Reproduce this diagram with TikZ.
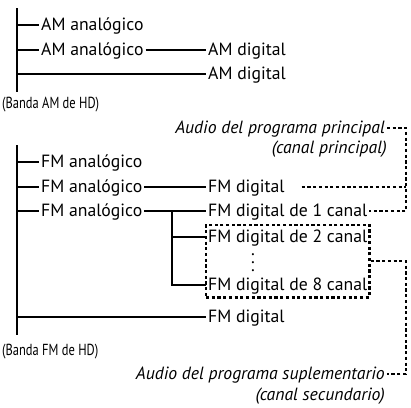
\documentclass[tikz,border=0pt]{standalone}
\usepackage{fontspec}
\setmainfont{PT Sans}
\newfontfamily\narrowfont[FakeStretch=0.78]{PT Sans}
\usetikzlibrary{positioning, fit, calc}

\begin{document}
\begin{tikzpicture}[x=1pt, y=-1pt,
    every node/.style={font=\fontsize{17.7}{20}\selectfont, inner sep=2pt, text height=13pt, text depth=3pt},
    lbl/.style={anchor=west},
    note/.style={anchor=east, font=\fontsize{17.7}{20}\selectfont\itshape},
    band/.style={anchor=west, font=\fontsize{16}{18}\selectfont\narrowfont},
    wire/.style={line width=2.7pt},
    dots/.style={line width=2.6pt, dash pattern=on 3.2pt off 2.5pt}
]
\useasboundingbox (0,0) rectangle (411,407);

% ===== Banda AM =====
\coordinate (amtop) at (17,8);
\coordinate (ambot) at (17,92);
\node[lbl] (am1) at (39,25) {AM analógico};
\node[lbl] (am2) at (39,50) {AM analógico};
\node[lbl] (amd2) at (206,50) {AM digital};
\node[lbl] (amd3) at (206,74) {AM digital};
\node[band] (amband) at (0,103) {(Banda AM de HD)};

\draw[wire] (amtop) -- (ambot);
\draw[wire] (amtop |- am1.west) -- (am1.west);
\draw[wire] (amtop |- am2.west) -- (am2.west);
\draw[wire] (am2.east) -- (amd2.west);
\draw[wire] (amtop |- amd3.west) -- (amd3.west);

% ===== Banda FM =====
\coordinate (fmtop) at (17,145);
\coordinate (fmbot) at (17,335);
\node[lbl] (fm1) at (39,162) {FM analógico};
\node[lbl] (fm2) at (39,187) {FM analógico};
\node[lbl] (fm3) at (39,211) {FM analógico};
\node[lbl] (fd) at (206,187) {FM digital};
\node[lbl] (f1) at (206,211) {FM digital de 1 canal};
\node[lbl] (f2) at (206,237) {FM digital de 2 canal};
\node[text height=, text depth=, inner sep=0pt] (vd) at (253,263)
  {\vbox{\baselineskip=8pt\lineskiplimit=-10pt\hbox{.}\hbox{.}\hbox{.}}};
\node[lbl] (f8) at (206,285) {FM digital de 8 canal};
\node[lbl] (fdl) at (206,317) {FM digital};
\node[band] (fmband) at (0,350) {(Banda FM de HD)};
\node[fit=(f2)(f8), draw, dots, inner xsep=0pt, inner ysep=2pt] (chbox) {};

\draw[wire] (fmtop) -- (fmbot);
\draw[wire] (fmtop |- fm1.west) -- (fm1.west);
\draw[wire] (fmtop |- fm2.west) -- (fm2.west);
\draw[wire] (fmtop |- fm3.west) -- (fm3.west);
\draw[wire] (fm2.east) -- (fd.west);
\draw[wire] (fm3.east) -- (f1.west);
\coordinate (br) at (172,211);
\draw[wire] (br) |- (f2.west);
\draw[wire] (br) |- (f8.west);
\draw[wire] (fmtop |- fdl.west) -- (fdl.west);

% ===== Audio del programa =====
\coordinate (rx) at (406,0);
\node[note] (pp) at (387,128) {Audio del programa principal};
\node[note] (pc) at (389,148) {(canal principal)};
\node[note] (sp) at (387,374) {Audio del programa suplementario};
\node[note] (sc) at (387,395) {(canal secundario)};

\draw[dots] (pp.east) -| (f1.east -| rx) -- (f1.east);
\draw[dots] ([xshift=15pt]fd.east) -- (fd.east -| rx);
\draw[dots] (chbox.east) -| (sp.east -| rx) -- (sp.east);

\end{tikzpicture}
\end{document}
